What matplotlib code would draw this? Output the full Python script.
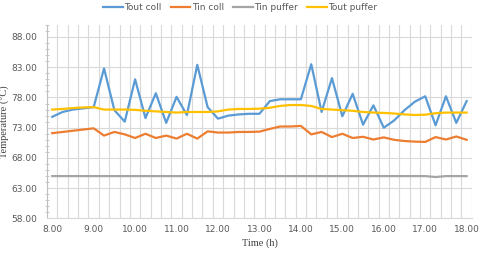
import numpy as np
import matplotlib
matplotlib.use('Agg')
import matplotlib.pyplot as plt
from matplotlib.ticker import MultipleLocator, FixedLocator

# 15-minute samples from 8.00 to 18.00
hours = ['8.00', '9.00', '10.00', '11.00', '12.00', '13.00',
         '14.00', '15.00', '16.00', '17.00', '18.00']

tout_coll = [74.8, 75.6, 76.0, 76.2, 76.4, 82.8, 75.9, 74.0, 81.0, 74.6,
             78.7, 73.8, 78.1, 75.1, 83.4, 76.4, 74.5, 75.0, 75.2, 75.3,
             75.3, 77.4, 77.7, 77.7, 77.7, 83.5, 75.6, 81.2, 74.9, 78.6,
             73.5, 76.7, 73.0, 74.2, 75.9, 77.3, 78.2, 73.4, 78.2, 73.8,
             77.4]
tin_coll = [72.1, 72.3, 72.5, 72.7, 72.9, 71.7, 72.3, 71.9, 71.3, 72.0,
            71.3, 71.7, 71.2, 72.0, 71.2, 72.4, 72.2, 72.2, 72.3, 72.3,
            72.35, 72.8, 73.2, 73.2, 73.3, 71.9, 72.3, 71.45, 72.0, 71.3,
            71.5, 71.05, 71.4, 71.0, 70.8, 70.7, 70.65, 71.45, 71.05, 71.55,
            71.0]
tin_puffer = [65.0] * 37 + [64.85, 65.0, 65.0, 65.0]
tout_puffer = [76.0, 76.1, 76.25, 76.35, 76.4, 76.0, 76.0, 76.0, 75.95, 75.8,
               75.7, 75.6, 75.5, 75.6, 75.6, 75.6, 75.7, 76.0, 76.1, 76.1,
               76.15, 76.3, 76.6, 76.75, 76.75, 76.6, 76.1, 76.0, 75.9, 75.8,
               75.6, 75.5, 75.45, 75.35, 75.2, 75.1, 75.15, 75.4, 75.5, 75.5,
               75.5]

x = np.arange(len(tout_coll))

fig = plt.figure(figsize=(4.8, 2.54), dpi=100)
ax = fig.add_axes([0.098, 0.140, 0.885, 0.762])

ax.plot(x, tout_coll, color='#5b9bd5', lw=1.6, label='Tout coll')
ax.plot(x, tin_coll, color='#ed7d31', lw=1.6, label='Tin coll')
ax.plot(x, tin_puffer, color='#a5a5a5', lw=1.6, label='Tin puffer')
ax.plot(x, tout_puffer, color='#ffc000', lw=1.6, label='Tout puffer')

ax.set_xlim(-0.5, len(x) - 0.5)
ax.set_ylim(58, 90)

# gridlines between categories, labels every hour
ax.xaxis.set_minor_locator(FixedLocator(np.arange(-0.5, len(x), 1.0)))
ax.set_xticks(np.arange(0, len(x), 4))
ax.set_xticklabels(hours)
ax.grid(True, which='minor', axis='x', color='#d9d9d9', lw=0.8)
ax.tick_params(axis='x', which='both', length=0, labelsize=6.5,
               colors='#595959', pad=5)

ax.set_yticks(np.arange(58, 89, 5))
ax.set_yticklabels(['%.2f' % v for v in np.arange(58, 89, 5)])
ax.yaxis.set_minor_locator(MultipleLocator(1))
ax.grid(True, which='major', axis='y', color='#d9d9d9', lw=0.8)
ax.tick_params(axis='y', which='major', length=0, labelsize=6.5,
               colors='#595959', pad=7)
ax.tick_params(axis='y', which='minor', length=2.5, color='#bfbfbf',
               direction='inout')
ax.set_axisbelow(True)

for s in ['top', 'right']:
    ax.spines[s].set_visible(False)
ax.spines['left'].set_color('#bfbfbf')
ax.spines['bottom'].set_color('#d9d9d9')

ax.set_ylabel('Temperature (°C)', family='Liberation Serif', fontsize=7.5,
              color='#404040')
ax.yaxis.set_label_coords(-0.088, 0.5)
ax.set_xlabel('Time (h)', family='Liberation Serif', fontsize=7.5,
              color='#404040', labelpad=3)

leg = fig.legend(loc='upper center', bbox_to_anchor=(0.5, 1.02), ncol=4,
                 frameon=False, fontsize=6.5, handlelength=2.2,
                 columnspacing=1.0, handletextpad=0.15)
for t in leg.get_texts():
    t.set_color('#595959')

fig.savefig('out.png', dpi=100)
